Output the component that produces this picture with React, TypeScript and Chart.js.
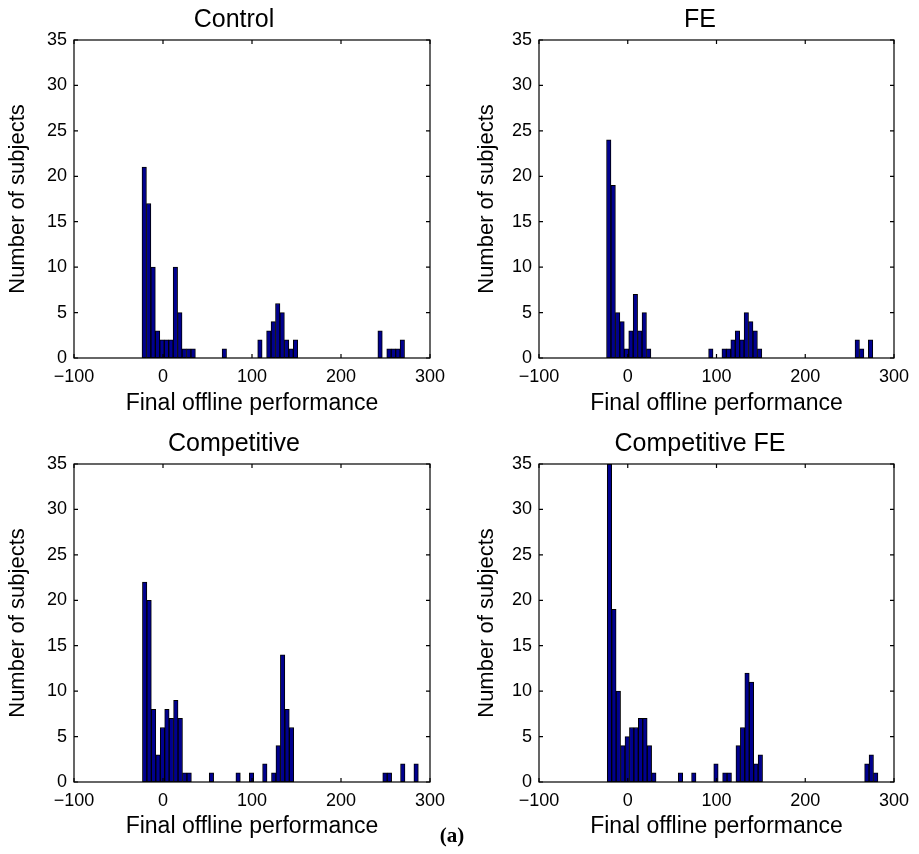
import React, { useEffect, useRef } from "react";
import { Chart, registerables } from "chart.js";

Chart.register(...registerables);

// ---------- data (histogram counts per 5-unit bin) ----------
const BIN_WIDTH = 5;
const X_TICKS = [-100, 0, 100, 200, 300];
const Y_TICKS = [0, 5, 10, 15, 20, 25, 30, 35];
const X_LABEL = "Final offline performance";
const Y_LABEL = "Number of subjects";

const controlStart = -23.6;
const controlCounts = [
  21, 17, 10, 3, 2, 2, 2, 10, 5, 1, 1, 1,
  0, 0, 0, 0, 0, 0, 1, 0, 0, 0, 0, 0, 0, 0,
  2, 0, 3, 4, 6, 5, 2, 1, 2,
  0, 0, 0, 0, 0, 0, 0, 0, 0, 0, 0, 0, 0, 0, 0, 0, 0, 0,
  3, 0, 1, 1, 1, 2,
];

const feStart = -23.9;
const feCounts = [
  24, 19, 5, 4, 1, 3, 7, 3, 5, 1,
  0, 0, 0, 0, 0, 0, 0, 0, 0, 0, 0, 0, 0, 1, 0, 0,
  1, 1, 2, 3, 2, 5, 4, 3, 1,
  0, 0, 0, 0, 0, 0, 0, 0, 0, 0, 0, 0, 0, 0, 0, 0, 0, 0, 0, 0, 0,
  2, 1, 0, 2,
];

const compStart = -23.1;
const compCounts = [
  22, 20, 8, 3, 6, 8, 7, 9, 7, 1, 1,
  0, 0, 0, 0, 1, 0, 0, 0, 0, 0, 1, 0, 0, 1, 0, 0,
  2, 0, 1, 4, 14, 8, 6,
  0, 0, 0, 0, 0, 0, 0, 0, 0, 0, 0, 0, 0, 0, 0, 0, 0, 0, 0, 0,
  1, 1, 0, 0, 2, 0, 0, 2,
];

const compFeStart = -23.1;
const compFeCounts = [
  35, 19, 10, 4, 5, 6, 6, 7, 7, 4, 1,
  0, 0, 0, 0, 0, 1, 0, 0, 1, 0, 0, 0, 0, 2, 0, 1, 1, 0,
  4, 6, 12, 11, 2, 3,
  0, 0, 0, 0, 0, 0, 0, 0, 0, 0, 0, 0, 0, 0, 0, 0, 0, 0, 0, 0, 0, 0, 0,
  2, 3, 1,
];

// ---------- layout / style ----------
const FONT = "'Liberation Sans', Arial, Helvetica, sans-serif";
const BAR_FILL = "#00008F";

type PanelCfg = {
  title: string;
  start: number;
  counts: number[];
  x: number;
  y: number;
  w: number;
  h: number;
  padTop: number;
  padRight: number;
  yWidth: number;
  xHeight: number;
  yTitlePad: number;
  xTitlePad: number;
  titleX: number;
  titleY: number;
};

const panels: PanelCfg[] = [
  { title: "Control", start: controlStart, counts: controlCounts, x: 0, y: 0, w: 459, h: 427, padTop: 40, padRight: 29, yWidth: 74, xHeight: 69, yTitlePad: 5, xTitlePad: 10, titleX: 234, titleY: 27 },
  { title: "FE", start: feStart, counts: feCounts, x: 459, y: 0, w: 460, h: 427, padTop: 40, padRight: 25, yWidth: 80, xHeight: 69, yTitlePad: 15, xTitlePad: 10, titleX: 241, titleY: 27 },
  { title: "Competitive", start: compStart, counts: compCounts, x: 0, y: 427, w: 459, h: 427, padTop: 37, padRight: 29, yWidth: 74, xHeight: 72, yTitlePad: 5, xTitlePad: 14, titleX: 234, titleY: 24 },
  { title: "Competitive FE", start: compFeStart, counts: compFeCounts, x: 459, y: 427, w: 460, h: 427, padTop: 37, padRight: 25, yWidth: 80, xHeight: 72, yTitlePad: 15, xTitlePad: 14, titleX: 241, titleY: 24 },
];

const framePlugin = {
  id: "matlabFrame",
  afterDraw(chart: any, _args: any, opts: any) {
    const { ctx, chartArea, scales } = chart;
    const { left, right, top, bottom } = chartArea;
    ctx.save();
    ctx.strokeStyle = "#000";
    ctx.lineWidth = 1.2;
    ctx.strokeRect(left, top, right - left, bottom - top);
    const tl = 4;
    ctx.beginPath();
    X_TICKS.forEach((v) => {
      const px = scales.x.getPixelForValue(v);
      ctx.moveTo(px, bottom);
      ctx.lineTo(px, bottom - tl);
      ctx.moveTo(px, top);
      ctx.lineTo(px, top + tl);
    });
    Y_TICKS.forEach((v) => {
      const py = scales.y.getPixelForValue(v);
      ctx.moveTo(left, py);
      ctx.lineTo(left + tl, py);
      ctx.moveTo(right, py);
      ctx.lineTo(right - tl, py);
    });
    ctx.stroke();
    ctx.fillStyle = "#000";
    ctx.font = `25px ${FONT}`;
    ctx.textAlign = "center";
    ctx.textBaseline = "alphabetic";
    ctx.fillText(opts.text, opts.x, opts.y);
    ctx.restore();
  },
};

function fmt(v: number) {
  return v < 0 ? "\u2212" + Math.abs(v) : String(v);
}

function Panel({ cfg }: { cfg: PanelCfg }) {
  const ref = useRef<HTMLCanvasElement>(null);
  useEffect(() => {
    const data = cfg.counts.map((c, i) => ({
      x: cfg.start + (i + 0.5) * BIN_WIDTH,
      y: c === 0 ? null : c,
    }));
    const chart = new Chart(ref.current as HTMLCanvasElement, {
      type: "bar",
      data: {
        datasets: [
          {
            data: data as any,
            backgroundColor: BAR_FILL,
            borderColor: "#000",
            borderWidth: 1,
            borderSkipped: false,
            barPercentage: 1,
            categoryPercentage: 1,
          },
        ],
      },
      options: {
        animation: false,
        responsive: false,
        events: [],
        layout: { padding: { top: cfg.padTop, right: cfg.padRight, left: 0, bottom: 0 } },
        plugins: {
          legend: { display: false },
          tooltip: { enabled: false },
          title: { display: false },
          matlabFrame: { text: cfg.title, x: cfg.titleX, y: cfg.titleY },
        } as any,
        scales: {
          x: {
            type: "linear",
            min: -100,
            max: 300,
            offset: false,
            grid: { display: false, drawTicks: false },
            border: { display: false },
            ticks: {
              stepSize: 100,
              color: "#000",
              font: { family: FONT, size: 18 },
              padding: 8,
              maxRotation: 0,
              callback: (v: any) => fmt(Number(v)),
            },
            title: {
              display: true,
              text: X_LABEL,
              color: "#000",
              font: { family: FONT, size: 23 },
              padding: { top: 0, bottom: cfg.xTitlePad },
            },
            afterFit: (s: any) => {
              s.height = cfg.xHeight;
            },
          },
          y: {
            type: "linear",
            min: 0,
            max: 35,
            grid: { display: false, drawTicks: false },
            border: { display: false },
            ticks: {
              stepSize: 5,
              color: "#000",
              font: { family: FONT, size: 18 },
              padding: 7,
            },
            title: {
              display: true,
              text: Y_LABEL,
              color: "#000",
              font: { family: FONT, size: 22 },
              padding: { top: cfg.yTitlePad, bottom: 0 },
            },
            afterFit: (s: any) => {
              s.width = cfg.yWidth;
            },
          },
        },
      },
      plugins: [framePlugin],
    });
    return () => chart.destroy();
  }, [cfg]);
  return (
    <canvas
      ref={ref}
      width={cfg.w}
      height={cfg.h}
      style={{ position: "absolute", left: cfg.x, top: cfg.y, width: cfg.w, height: cfg.h }}
    />
  );
}

export default function App() {
  return (
    <div style={{ position: "absolute", left: 0, top: 0, width: 919, height: 854, background: "#fff" }}>
      {panels.map((p) => (
        <Panel key={p.title} cfg={p} />
      ))}
      <div
        style={{
          position: "absolute",
          left: 452,
          top: 823,
          transform: "translateX(-50%)",
          fontFamily: "'Liberation Serif', 'Times New Roman', serif",
          fontWeight: "bold",
          fontSize: 21,
          lineHeight: "24px",
          color: "#000",
        }}
      >
        (a)
      </div>
    </div>
  );
}
